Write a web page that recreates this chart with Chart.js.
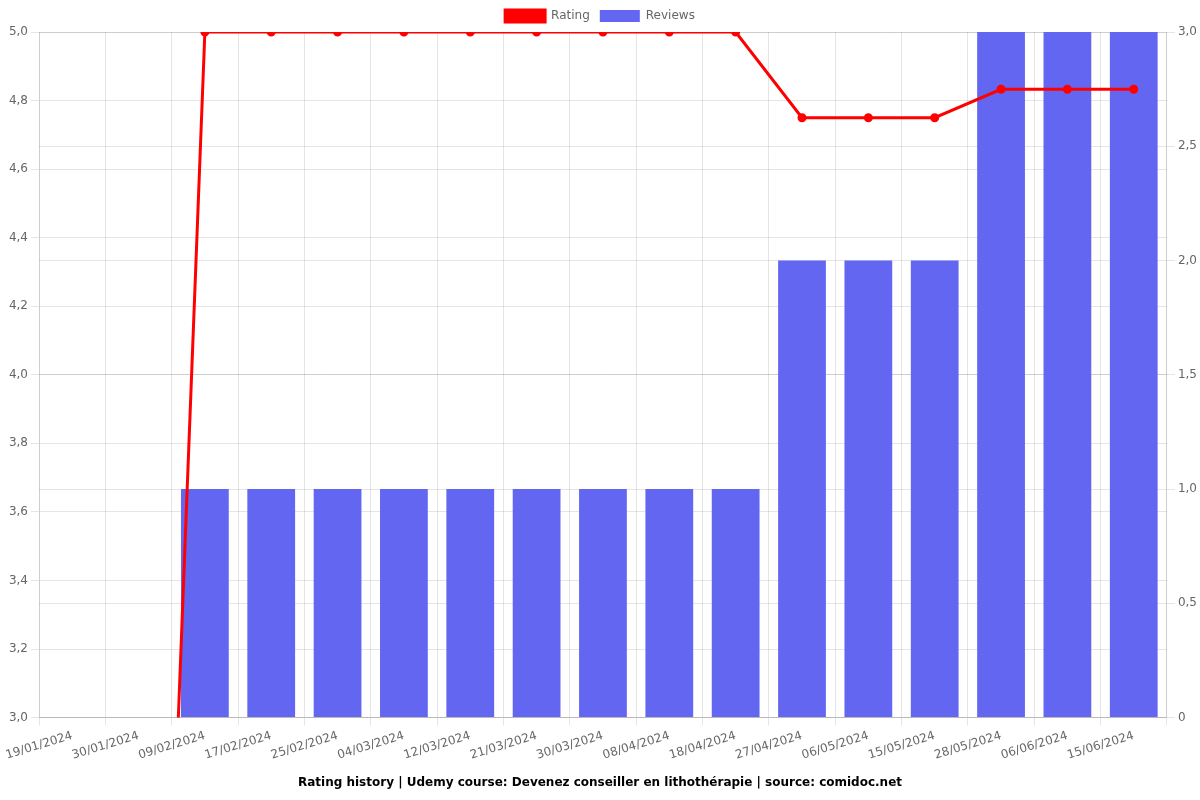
<!DOCTYPE html>
<html>
<head>
<meta charset="utf-8">
<script src="https://cdn.jsdelivr.net/npm/chart.js@4"></script>
<style>
  html, body { margin: 0; padding: 0; background: #fff; }
  #wrap { width: 1200px; height: 800px; }
</style>
</head>
<body>
<div id="wrap"><canvas id="ratingChart" width="1200" height="800"></canvas></div>
<script>
const dates = [
    "19/01/2024", "30/01/2024", "09/02/2024", "17/02/2024", "25/02/2024",
    "04/03/2024", "12/03/2024", "21/03/2024", "30/03/2024", "08/04/2024",
    "18/04/2024", "27/04/2024", "06/05/2024", "15/05/2024", "28/05/2024",
    "06/06/2024", "15/06/2024"
];
const ratings = [0, 0, 5, 5, 5, 5, 5, 5, 5, 5, 5, 4.75, 4.75, 4.75, 4.833, 4.833, 4.833];
const reviews = [0, 0, 1, 1, 1, 1, 1, 1, 1, 1, 1, 2, 2, 2, 3, 3, 3];

const comma = v => String(Number(v).toFixed(1)).replace(".", ",");

Chart.defaults.font.family = "'DejaVu Sans', sans-serif";
Chart.defaults.font.size = 12;
Chart.defaults.color = "#666";

new Chart(document.getElementById("ratingChart"), {
    type: "bar",
    data: {
        labels: dates,
        datasets: [
            {
                type: "line",
                label: "Rating",
                data: ratings,
                yAxisID: "y",
                borderColor: "#ff0000",
                backgroundColor: "#ff0000",
                borderWidth: 3,
                pointRadius: 3,
                tension: 0
            },
            {
                type: "bar",
                label: "Reviews",
                data: reviews,
                yAxisID: "y1",
                backgroundColor: "#6366f1"
            }
        ]
    },
    options: {
        responsive: false,
        animation: false,
        plugins: {
            legend: { position: "top" },
            title: {
                display: true,
                position: "bottom",
                text: "Rating history | Udemy course: Devenez conseiller en lithothérapie | source: comidoc.net",
                color: "#000",
                font: { weight: "bold", size: 12 }
            }
        },
        scales: {
            x: {
                ticks: { minRotation: 17, maxRotation: 17 }
            },
            y: {
                position: "left",
                min: 3,
                max: 5,
                afterFit: scale => { scale.width = 39; },
                ticks: { stepSize: 0.2, callback: v => comma(v) }
            },
            y1: {
                position: "right",
                min: 0,
                max: 3,
                ticks: { stepSize: 0.5, callback: v => v === 0 ? "0" : comma(v) }
            }
        }
    }
});
</script>
</body>
</html>
